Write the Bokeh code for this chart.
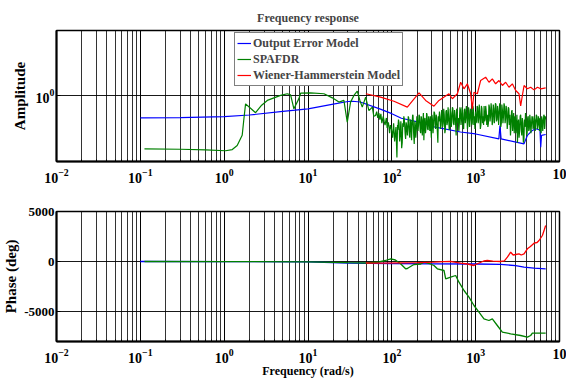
from bokeh.plotting import figure
from bokeh.models import Range1d, FixedTicker, LogTicker
from bokeh.layouts import column
from bokeh.embed import file_html
from bokeh.resources import INLINE

FONT = "Liberation Serif"

# ---------------- amplitude data ----------------
blue_amp_freq = [0.1, 0.3, 1, 2, 5, 10, 20, 30, 34, 42, 73, 100, 130, 210, 320, 660, 1000,
                 1890, 1950, 2010, 3770, 4140, 4745, 5200, 5850, 5970, 6100, 6840]
blue_amp = [0.68, 0.684, 0.695, 0.716, 0.762, 0.798, 0.867, 0.908, 0.912, 0.90, 0.794, 0.733,
            0.676, 0.631, 0.582, 0.531, 0.513, 0.471, 0.596, 0.471, 0.431, 0.50, 0.546, 0.562,
            0.55, 0.406, 0.50, 0.508]

green_lf_freq = [0.112, 0.3, 0.6, 1.04, 1.25, 1.43, 1.64, 1.72, 1.80, 2.0,
                 2.37, 2.8, 3.27, 4.71, 5.66, 6.2, 6.79, 7.79, 8.17, 10.7,
                 15.5, 19.5, 23.4, 26.8, 29.4, 32.2, 35.3, 38.7, 41.6, 44.4,
                 48.7, 53.3, 58.5, 61]
green_lf_amp = [0.395, 0.392, 0.388, 0.382, 0.39, 0.419, 0.501, 0.67, 0.871, 0.82,
                0.745, 0.85, 0.925, 1.01, 1.04, 1.02, 0.798, 0.955, 1.05, 1.057,
                1.04, 0.968, 0.898, 0.925, 0.631, 0.898, 1.01, 1.089, 0.925, 0.822,
                0.98, 0.774, 0.822, 0.70]

green_hf_freq = [64, 66, 68, 70, 72, 74, 76, 79, 81, 83,
                 86, 88, 91, 94, 96, 99, 102, 105, 108, 112,
                 115, 118, 122, 126, 129, 133, 137, 141, 146, 150,
                 155, 159, 164, 169, 174, 179, 185, 190, 196, 202,
                 208, 214, 221, 227, 234, 241, 248, 256, 263, 271,
                 279, 288, 296, 305, 314, 324, 333, 343, 354, 364,
                 375, 387, 398, 410, 422, 435, 448, 462, 476, 490,
                 504, 520, 535, 551, 568, 585, 602, 620, 639, 658,
                 678, 698, 719, 741, 763, 786, 809, 834, 859, 884,
                 911, 938, 966, 995, 1025, 1056, 1088, 1120, 1154, 1188,
                 1224, 1261, 1298, 1337, 1377, 1419, 1461, 1505, 1550, 1597,
                 1645, 1694, 1745, 1797, 1851, 1907, 1964, 2023, 2083, 2146,
                 2210, 2276, 2345, 2415, 2487, 2562, 2639, 2718, 2800, 2884,
                 2970, 3059, 3151, 3245, 3343, 3443, 3546, 3653, 3762, 3875,
                 3991, 4111, 4234, 4361, 4492, 4627, 4766, 4909, 5056, 5208,
                 5364, 5525, 5691, 5861, 6037, 6218, 6404, 6596, 6700, 6840]
green_hf_amp = [0.71, 0.76, 0.68, 0.74, 0.66, 0.73, 0.62, 0.70, 0.64, 0.60,
                0.68, 0.57, 0.63, 0.52, 0.60, 0.56, 0.48, 0.62, 0.45, 0.58,
                0.34, 0.55, 0.62, 0.50, 0.60, 0.44, 0.58, 0.66, 0.47, 0.60,
                0.56, 0.68, 0.48, 0.64, 0.58, 0.71, 0.43, 0.62, 0.55, 0.66,
                0.60, 0.70, 0.52, 0.66, 0.62, 0.46, 0.68, 0.58, 0.72, 0.55,
                0.64, 0.70, 0.48, 0.66, 0.60, 0.74, 0.56, 0.68, 0.44, 0.64,
                0.70, 0.60, 0.76, 0.62, 0.72, 0.55, 0.78, 0.64, 0.70, 0.58,
                0.74, 0.66, 0.80, 0.60, 0.72, 0.50, 0.76, 0.68, 0.62, 0.78,
                0.66, 0.74, 0.56, 0.80, 0.68, 0.72, 0.60, 0.78, 0.66, 0.74,
                0.62, 0.80, 0.70, 0.76, 0.64, 0.82, 0.68, 0.74, 0.60, 0.80,
                0.70, 0.84, 0.66, 0.76, 0.72, 0.62, 0.82, 0.70, 0.78, 0.64,
                0.80, 0.70, 0.86, 0.66, 0.76, 0.72, 0.82, 0.62, 0.78, 0.70,
                0.84, 0.68, 0.76, 0.64, 0.80, 0.72, 0.58, 0.78, 0.66, 0.52,
                0.70, 0.60, 0.44, 0.66, 0.54, 0.72, 0.50, 0.62, 0.46, 0.58,
                0.66, 0.52, 0.70, 0.56, 0.64, 0.60, 0.68, 0.58, 0.66, 0.62,
                0.70, 0.60, 0.64, 0.68, 0.52, 0.66, 0.62, 0.70, 0.60, 0.66]

# extra (interleaved) samples of the dense SPAFDR band
green_hf2_freq = [117, 120, 124, 128, 131, 135, 139, 144, 148, 153,
                  157, 162, 167, 172, 177, 182, 188, 193, 199, 205,
                  211, 218, 224, 231, 238, 245, 252, 260, 267, 275,
                  284, 292, 301, 310, 319, 329, 338, 349, 359, 370,
                  381, 393, 404, 416, 429, 442, 455, 469, 483, 497,
                  512, 528, 543, 560, 577, 594, 611, 630, 649, 668,
                  688, 709, 730, 752, 775, 798, 822, 847, 872, 898,
                  925, 952, 981, 1010, 1041, 1072, 1104, 1137, 1171, 1206,
                  1243, 1280, 1318, 1357, 1398, 1440, 1483, 1528, 1574, 1621,
                  1670, 1720, 1771, 1824, 1879, 1936, 1994, 2053, 2115, 2178,
                  2243, 2311, 2380, 2451, 2525, 2601, 2679, 2759, 2842, 2927,
                  3015, 3105, 3198, 3294, 3393, 3495, 3600, 3708, 3819, 3933,
                  4051, 4173, 4298, 4427, 4560, 4697, 4838, 4983, 5132, 5286,
                  5445, 5608, 5776, 5949, 6128, 6311, 6500, 6648, 6770]
green_hf2_amp = [0.60, 0.66, 0.45, 0.64, 0.40, 0.62, 0.70, 0.52, 0.63, 0.50,
                 0.70, 0.50, 0.66, 0.46, 0.72, 0.52, 0.64, 0.48, 0.70, 0.54,
                 0.72, 0.54, 0.70, 0.50, 0.74, 0.64, 0.52, 0.74, 0.56, 0.70,
                 0.54, 0.58, 0.72, 0.52, 0.76, 0.58, 0.72, 0.54, 0.70, 0.76,
                 0.56, 0.78, 0.58, 0.80, 0.52, 0.76, 0.60, 0.82, 0.55, 0.80,
                 0.58, 0.82, 0.62, 0.78, 0.60, 0.80, 0.62, 0.54, 0.82, 0.60,
                 0.82, 0.58, 0.78, 0.62, 0.84, 0.56, 0.82, 0.58, 0.80, 0.60,
                 0.84, 0.60, 0.56, 0.62, 0.84, 0.62, 0.86, 0.56, 0.84, 0.62,
                 0.60, 0.64, 0.84, 0.60, 0.58, 0.86, 0.64, 0.88, 0.60, 0.86,
                 0.62, 0.88, 0.64, 0.84, 0.60, 0.88, 0.58, 0.86, 0.62, 0.88,
                 0.62, 0.84, 0.56, 0.82, 0.60, 0.50, 0.76, 0.54, 0.74, 0.68,
                 0.52, 0.72, 0.62, 0.48, 0.70, 0.56, 0.68, 0.44, 0.66, 0.74,
                 0.50, 0.68, 0.54, 0.72, 0.52, 0.70, 0.56, 0.70, 0.54, 0.72,
                 0.56, 0.70, 0.54, 0.56, 0.70, 0.54, 0.72, 0.56, 0.70]

red_amp_freq = [49, 73.5, 106, 153, 211, 253, 318, 365, 480, 527,
                605, 662, 726, 796, 871, 914, 955, 1047, 1146, 1315,
                1442, 1581, 1730, 1897, 2083, 2280, 2497, 2739, 3000, 3287,
                3443, 3607, 3776, 4140, 4530, 4965, 5455, 5970, 6840]
red_amp = [1.04, 0.98, 0.912, 0.822, 1.057, 0.925, 0.836, 0.925, 1.04, 0.953,
           1.04, 1.274, 1.135, 1.239, 1.04, 0.798, 1.069, 1.04, 1.313, 1.393,
           1.274, 1.352, 1.239, 1.313, 1.202, 1.274, 1.167, 1.239, 1.102, 1.04,
           0.84, 1.009, 1.202, 1.135, 1.167, 1.114, 1.167, 1.135, 1.155]

# ---------------- phase data ----------------
blue_ph_freq = [0.1, 1, 10, 30, 100, 300, 1000, 1990, 3000, 3776, 4965, 6840]
blue_ph = [0, -5, -40, -150, -200, -230, -250, -280, -420, -570, -670, -730]

green_ph_freq = [0.112, 1, 10, 30, 50, 70, 84, 97, 110, 127,
                 146, 153, 175, 184, 221, 242, 280, 318, 349, 419,
                 439, 503, 577, 632, 726, 832, 955, 1094, 1256, 1439,
                 1581, 1812, 2080, 2616, 3443, 4140, 4530, 4745, 6840]
green_ph = [0, -5, -30, -120, -150, -50, 100, 270, 150, -230,
            -730, -700, -400, -300, -250, -70, -200, -400, -730, -900,
            -1730, -1570, -1400, -2070, -2900, -3570, -4400, -5070, -5730, -5900,
            -5730, -6400, -7070, -7230, -7400, -7570, -7400, -7170, -7170]

red_ph_freq = [49, 60, 80, 127, 200, 318, 420, 503, 560, 662,
               800, 955, 1000, 1100, 1250, 1377, 1600, 1986, 2200, 2388,
               2616, 2800, 3000, 3287, 3500, 3776, 4140, 4500, 4965, 5400,
               5700, 6250, 6600, 6840]
red_ph = [-150, -170, -160, -130, -110, -70, -20, 0, -60, -170,
          -250, -400, -300, -150, 50, 100, 30, 0, 60, 430,
          930, 650, 700, 770, 650, 770, 1270, 1500, 1830, 1900,
          2100, 2600, 3200, 3600]

x_decades = [0.01, 0.1, 1, 10, 100, 1000, 10000]
last_decade_label = "10"   # the reference shows this label cut at the right edge
amp_ticks = [1]
phase_ticks = [-5000, 0, 5000]
phase_labels = {-5000: "-5000", 0: "0", 5000: "5000"}

labels = ["Output Error Model", "SPAFDR", "Wiener-Hammerstein Model"]
colors = ["#0000ff", "#008000", "#ff0000"]

green_lf_pairs = list(zip(green_lf_freq, green_lf_amp))
green_hf_pairs = sorted(list(zip(green_hf_freq, green_hf_amp)) + list(zip(green_hf2_freq, green_hf2_amp)))
green_amp_freq = [f for f, a in green_lf_pairs + green_hf_pairs]
green_amp = [a for f, a in green_lf_pairs + green_hf_pairs]


def style(p):
    p.outline_line_color = "black"
    p.outline_line_width = 1.5
    p.background_fill_color = "white"
    p.border_fill_color = "white"
    for ax in p.axis:
        ax.axis_line_width = 2
        ax.axis_line_color = "black"
        ax.major_tick_in = 4
        ax.major_tick_out = 0
        ax.minor_tick_in = 2
        ax.minor_tick_out = 0
        ax.major_label_text_font = FONT
        ax.major_label_text_font_style = "bold"
        ax.major_label_text_color = "black"
        ax.axis_label_text_font = FONT
        ax.axis_label_text_font_style = "bold"
        ax.axis_label_text_color = "black"
        ax.major_label_standoff = 2
        ax.axis_label_standoff = 2
    p.yaxis.axis_label_text_font_size = "15px"
    p.xaxis.major_label_text_font_size = "14px"
    p.yaxis.major_label_text_font_size = "13px"
    p.xaxis.ticker = LogTicker(mantissas=[1], desired_num_ticks=7, num_minor_ticks=10)
    p.xaxis.major_label_overrides = {x_decades[-1]: last_decade_label}
    p.xgrid.grid_line_color = "black"
    p.xgrid.grid_line_alpha = 0.9
    p.xgrid.minor_grid_line_color = "black"
    p.xgrid.minor_grid_line_alpha = 0.8
    p.ygrid.grid_line_color = "black"
    p.ygrid.grid_line_alpha = 0.9


p1 = figure(x_axis_type="log", y_axis_type="log",
            x_range=Range1d(x_decades[0], x_decades[-1]), y_range=Range1d(0.3162, 3.162),
            width=566, height=190,
            min_border_left=56, min_border_right=7, min_border_top=30, min_border_bottom=29,
            output_backend="svg", toolbar_location=None, title="Frequency response")
p1.title.align = "center"
p1.title.text_font = FONT
p1.title.text_font_style = "bold"
p1.title.text_font_size = "12px"
p1.title.standoff = 12
style(p1)
p1.xaxis.major_label_standoff = 7
p1.yaxis.ticker = FixedTicker(ticks=amp_ticks)
p1.yaxis.axis_label = "Amplitude"
p1.yaxis.axis_label_standoff = 5
p1.yaxis.major_label_text_font_size = "14px"

p1.line(blue_amp_freq, blue_amp, color=colors[0], line_width=1.2, legend_label=labels[0])
p1.line(green_amp_freq, green_amp, color=colors[1], line_width=1.2, legend_label=labels[1])
p1.line(red_amp_freq, red_amp, color=colors[2], line_width=1.2, legend_label=labels[2])

lg = p1.legend[0]
lg.location = (178, 75)
lg.margin = 0
lg.padding = 2
lg.spacing = 0
lg.glyph_width = 14
lg.glyph_height = 16
lg.label_height = 16
lg.label_standoff = 2
lg.label_text_font = FONT
lg.label_text_font_style = "bold"
lg.label_text_font_size = "12px"
lg.border_line_color = "black"
lg.border_line_width = 1.5
lg.background_fill_alpha = 1

p2 = figure(x_axis_type="log",
            x_range=Range1d(x_decades[0], x_decades[-1]), y_range=Range1d(-8000, 5000),
            width=566, height=190,
            min_border_left=56, min_border_right=7, min_border_top=21, min_border_bottom=39,
            output_backend="svg", toolbar_location=None)
style(p2)
p2.xaxis.major_label_standoff = 7
p2.xaxis.axis_label_standoff = -2
p2.yaxis.ticker = FixedTicker(ticks=phase_ticks)
p2.yaxis.major_label_overrides = phase_labels
p2.yaxis.axis_label = "Phase (deg)"
p2.xaxis.axis_label = "Frequency (rad/s)"
p2.xaxis.axis_label_text_font_size = "12px"

p2.line(blue_ph_freq, blue_ph, color=colors[0], line_width=1.3)
p2.line(green_ph_freq, green_ph, color=colors[1], line_width=1.3)
p2.line(red_ph_freq, red_ph, color=colors[2], line_width=1.3)

layout = column(p1, p2, spacing=0)
open("out.html", "w").write(file_html(layout, INLINE))
